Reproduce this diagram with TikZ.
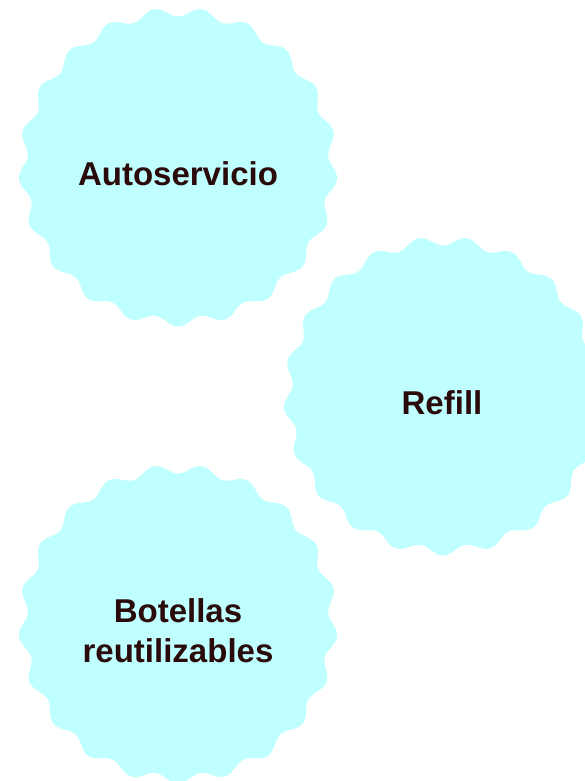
\documentclass[tikz,border=0pt]{standalone}
\usepackage{fontspec}
\setmainfont{Liberation Sans}

\definecolor{blobcyan}{HTML}{C0FFFF}
\definecolor{ink}{HTML}{2A0A0A}

\tikzset{
	blobfill/.style={fill=blobcyan},
	blobtext/.style={text=ink, font=\bfseries\fontsize{33}{40}\selectfont, align=center, inner sep=0pt},
}

\begin{document}
\begin{tikzpicture}[x=1pt,y=1pt]
				\useasboundingbox (0,0) rectangle (585,-781);
				\clip (0,0) rectangle (585,-781);
				% scalloped blobs
				\foreach \cx/\cy in {178/-167, 443/-396, 178/-624}
					\fill[blobfill, shift={(\cx,\cy)}]
						plot[domain=0:360, samples=361] (\x:{155-4.5*cos(21*(\x-90))});
				% texts
				\node[blobtext] (autoservicio) at (178,-174) {Autoservicio};
				\node[blobtext] (refill) at (442,-403) {Refill};
				\node[blobtext] (botellas) at (178,-631) {Botellas\\reutilizables};
		\end{tikzpicture}
\end{document}
